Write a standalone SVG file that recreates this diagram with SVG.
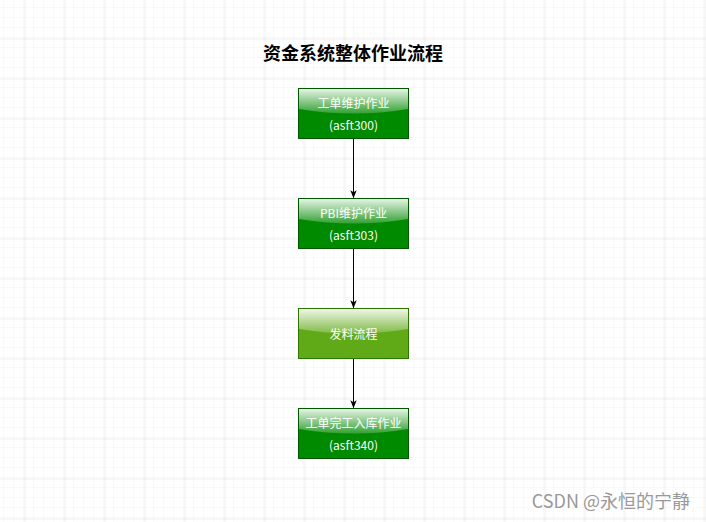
<svg xmlns="http://www.w3.org/2000/svg" width="706" height="522" viewBox="0 0 706 522">
<defs>
<pattern id="minor" x="4" y="8" width="10" height="10" patternUnits="userSpaceOnUse">
<path d="M10 0V10M0 10H10" fill="none" stroke="#f2f2f2" stroke-width="1"/>
</pattern>
<pattern id="major" x="24.5" y="38.5" width="40" height="40" patternUnits="userSpaceOnUse">
<path d="M0 0V40M0 0H40" fill="none" stroke="#e0e0e0" stroke-width="1"/>
</pattern>
<linearGradient id="gloss" x1="0" y1="0" x2="0" y2="1">
<stop offset="0" stop-color="#ffffff" stop-opacity="0.9"/>
<stop offset="1" stop-color="#ffffff" stop-opacity="0.2"/>
</linearGradient>
<marker id="arr" viewBox="0 0 10 10" refX="9" refY="5" markerWidth="8" markerHeight="8" markerUnits="userSpaceOnUse" orient="auto">
<path d="M0 1L10 5L0 9L2.5 5Z" fill="#000"/>
</marker>
</defs>
<style>
.t{font-family:"Noto Sans CJK SC","Liberation Sans",sans-serif;font-size:12px;fill:#fff;text-anchor:middle}
.g{fill:#008a00;stroke:#005700;stroke-width:1}
.l{fill:#60a917;stroke:#2d7600;stroke-width:1}
.sh{fill:url(#gloss)}
.c{stroke:#000;stroke-width:1;fill:none;marker-end:url(#arr)}
</style>
<rect width="706" height="522" fill="#fff"/>
<rect width="706" height="522" fill="url(#minor)"/>
<rect width="706" height="522" fill="url(#major)"/>
<text x="353" y="60" text-anchor="middle" font-family="Noto Sans CJK SC,sans-serif" font-size="18" font-weight="bold" fill="#000">资金系统整体作业流程</text>
<g id="connectors">
<path class="c" d="M353.5 138.5V197.5"/>
<path class="c" d="M353.5 248.5V307.5"/>
<path class="c" d="M353.5 358.5V407.5"/>
</g>
<g id="n1">
<rect class="g" x="298.5" y="88.5" width="110" height="50"/>
<path class="sh" d="M299 89H408V109Q353.5 118 299 109Z"/>
<text class="t" x="353.5" y="108">工单维护作业</text>
<text class="t" x="353.5" y="130">(asft300)</text>
</g>
<g id="n2">
<rect class="g" x="298.5" y="198.5" width="110" height="50"/>
<path class="sh" d="M299 199H408V219Q353.5 228 299 219Z"/>
<text class="t" x="353.5" y="218">PBI维护作业</text>
<text class="t" x="353.5" y="240">(asft303)</text>
</g>
<g id="n3">
<rect class="l" x="298.5" y="308.5" width="110" height="50"/>
<path class="sh" d="M299 309H408V329Q353.5 338 299 329Z"/>
<text class="t" x="353.5" y="339">发料流程</text>
</g>
<g id="n4">
<rect class="g" x="298.5" y="408.5" width="110" height="50"/>
<path class="sh" d="M299 409H408V429Q353.5 438 299 429Z"/>
<text class="t" x="353.5" y="428">工单完工入库作业</text>
<text class="t" x="353.5" y="450">(asft340)</text>
</g>
<text x="690" y="508" text-anchor="end" font-family="Noto Sans CJK SC,sans-serif" font-size="18" fill="#999">CSDN @永恒的宁静</text>
</svg>
